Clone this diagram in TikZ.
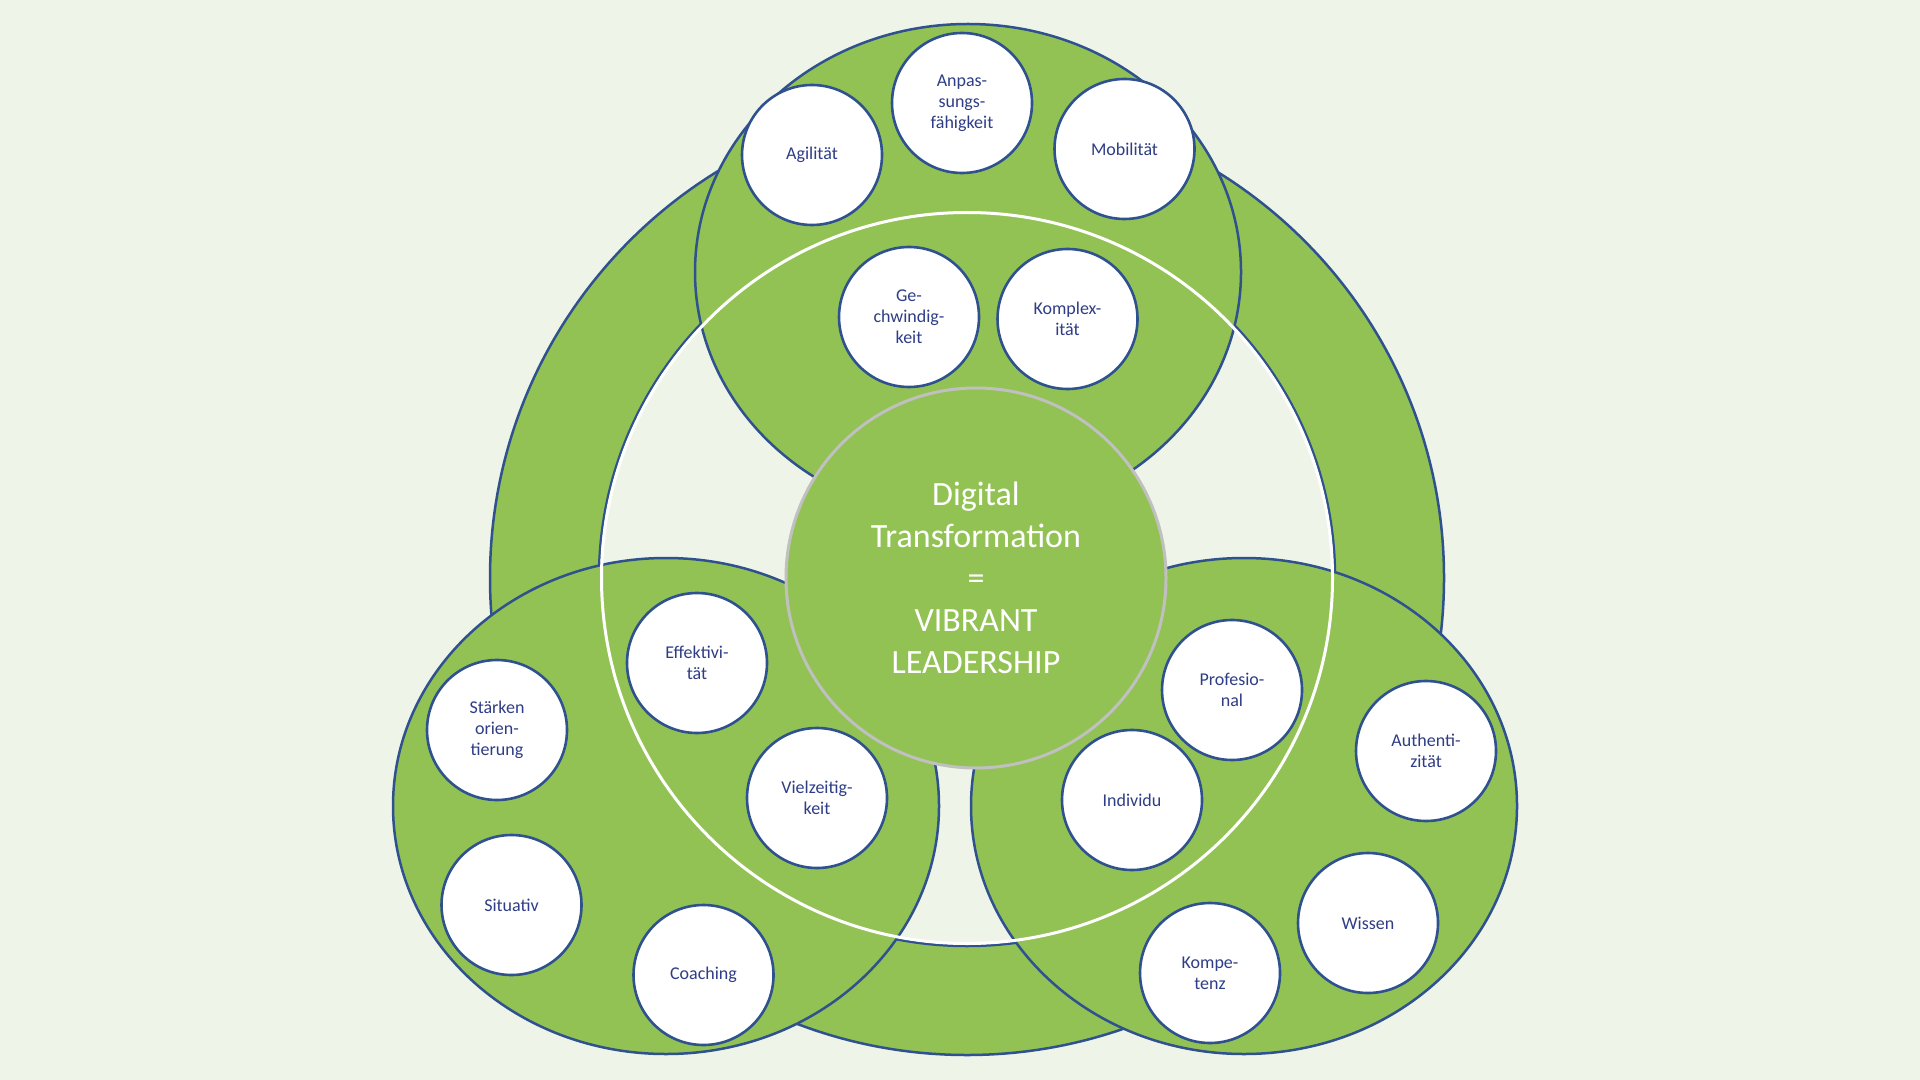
\documentclass[tikz,border=0pt]{standalone}
\usepackage{fontspec}
\setmainfont{Carlito}
\definecolor{bg}{RGB}{239,244,232}
\definecolor{leaf}{RGB}{147,194,84}
\definecolor{edge}{HTML}{2F528F}
\definecolor{ink}{RGB}{46,61,133}
\definecolor{rim}{RGB}{192,192,192}
\begin{document}
\begin{tikzpicture}[x=0.5pt,y=-0.5pt,
  item/.style={circle, draw=edge, line width=1.3pt, fill=white, minimum size=70pt,
    inner sep=0pt, align=center, font=\fontsize{9}{10.5}\selectfont, text=ink},
  blob/.style={fill=leaf, draw=edge, line width=1.25pt},
]
\fill[bg] (0,0) rectangle (1920,1080);
\useasboundingbox (0,0) rectangle (1920,1080);
% outer ring
\coordinate (rc) at (967,578);
\path[blob, even odd rule] (rc) circle[radius=477] (rc) circle[radius=368];
% three ellipses
\path[blob] (968,272) ellipse [x radius=273, y radius=248];
\path[blob] (666,806) ellipse [x radius=273, y radius=248];
\path[blob] (1244,806) ellipse [x radius=273, y radius=248];
% white inner circle line
\draw[white, line width=1.5pt] (rc) circle[radius=365.5];
% centre
\node (core) [circle, fill=leaf, draw=rim, line width=1.5pt, minimum size=190pt,
  inner sep=0pt, align=center, text=white, font=\fontsize{17}{21}\selectfont]
  at (976,578) {Digital\\Transformation\\=\\VIBRANT\\LEADERSHIP};
% small circles
\node[item] (agil) at (812,155) {Agilität};
\node[item] (anpa) at (962,103) {Anpas-\\sungs-\\fähigkeit};
\node[item] (mobi) at (1124.5,149) {Mobilität};
\node[item] (gesc) at (909,317) {Ge-\\chwindig-\\keit};
\node[item] (komp) at (1067.5,319) {Komplex-\\ität};
\node[item] (effe) at (697,663) {Effektivi-\\tät};
\node[item] (star) at (497,730) {Stärken\\orien-\\tierung};
\node[item] (viel) at (817,798) {Vielzeitig-\\keit};
\node[item] (situ) at (511.5,905) {Situativ};
\node[item] (coac) at (703.5,975) {Coaching};
\node[item] (prof) at (1232,690) {Profesio-\\nal};
\node[item] (indi) at (1132,800) {Individu};
\node[item] (auth) at (1426,751) {Authenti-\\zität};
\node[item] (wiss) at (1368,923) {Wissen};
\node[item] (kmpt) at (1210,973) {Kompe-\\tenz};
\end{tikzpicture}
\end{document}
